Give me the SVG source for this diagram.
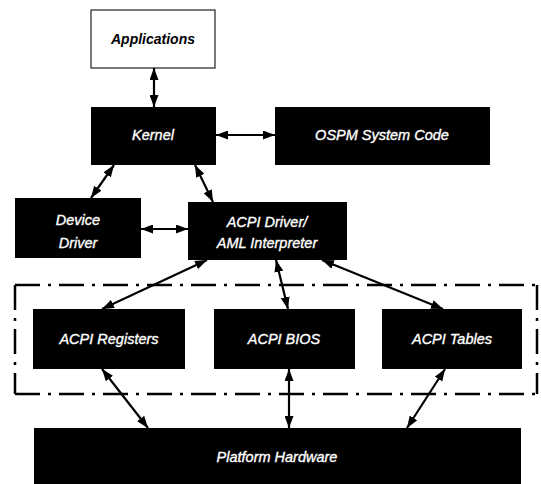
<svg xmlns="http://www.w3.org/2000/svg" width="541" height="484" viewBox="0 0 541 484">
  <style>
    .box { fill: #000; }
    .lbl { font-family: "Liberation Sans", Arial, sans-serif; font-style: italic; font-size: 14.5px; fill: #fff; stroke: #fff; stroke-width: 0.35; text-anchor: middle; }
    .app { fill: #fff; stroke: #222; stroke-width: 1.2; }
    .applbl { font-family: "Liberation Sans", Arial, sans-serif; font-style: italic; font-weight: bold; font-size: 14px; fill: #000; text-anchor: middle; }
    .link { stroke: #000; stroke-width: 2.2; fill: none; marker-start: url(#head); marker-end: url(#head); }
    .frame { stroke: #000; stroke-width: 2.5; fill: none; stroke-dasharray: 25 8 3 8; }
  </style>
  <defs>
    <marker id="head" viewBox="0 0 12 9" refX="12" refY="4.5" markerWidth="12" markerHeight="9" markerUnits="userSpaceOnUse" orient="auto-start-reverse">
      <path d="M0,0 L12,4.5 L0,9 z" fill="#000"/>
    </marker>
  </defs>

  <rect width="541" height="484" fill="#fff"/>

  <!-- ACPI subsystem boundary -->
  <g id="acpi-boundary">
    <path class="frame" d="M15,285 H537 M15,394 H537 M15,285 V394 M537,285 V394"/>
  </g>

  <g id="applications">
    <rect class="app" x="91" y="10" width="124" height="58"/>
    <text class="applbl" x="153" y="44">Applications</text>
  </g>
  <g id="kernel">
    <rect class="box" x="91" y="107" width="125" height="58"/>
    <text class="lbl" x="153" y="140">Kernel</text>
  </g>
  <g id="ospm">
    <rect class="box" x="275" y="107" width="215" height="58"/>
    <text class="lbl" x="382" y="140">OSPM System Code</text>
  </g>
  <g id="device-driver">
    <rect class="box" x="15" y="198" width="126" height="60"/>
    <text class="lbl" x="78" y="225">Device</text>
    <text class="lbl" x="78" y="248">Driver</text>
  </g>
  <g id="acpi-driver">
    <rect class="box" x="188" y="202" width="159" height="58"/>
    <text class="lbl" x="267" y="227">ACPI Driver/</text>
    <text class="lbl" x="267" y="248">AML Interpreter</text>
  </g>
  <g id="acpi-registers">
    <rect class="box" x="33" y="309" width="152" height="60"/>
    <text class="lbl" x="109" y="344">ACPI Registers</text>
  </g>
  <g id="acpi-bios">
    <rect class="box" x="214" y="309" width="141" height="60"/>
    <text class="lbl" x="284" y="344">ACPI BIOS</text>
  </g>
  <g id="acpi-tables">
    <rect class="box" x="382" y="309" width="140" height="60"/>
    <text class="lbl" x="452" y="344">ACPI Tables</text>
  </g>
  <g id="platform-hardware">
    <rect class="box" x="34" y="428" width="487" height="56"/>
    <text class="lbl" x="277" y="462">Platform Hardware</text>
  </g>

  <g id="connectors">
    <line class="link" x1="154" y1="68" x2="154" y2="107"/>
    <line class="link" x1="216" y1="135" x2="275" y2="135"/>
    <line class="link" x1="114" y1="165" x2="91" y2="198"/>
    <line class="link" x1="195" y1="165" x2="213" y2="202"/>
    <line class="link" x1="141" y1="229" x2="188" y2="229"/>
    <line class="link" x1="207" y1="260" x2="102" y2="309"/>
    <line class="link" x1="276" y1="260" x2="288" y2="309"/>
    <line class="link" x1="322" y1="260" x2="443" y2="309"/>
    <line class="link" x1="102" y1="369" x2="148" y2="428"/>
    <line class="link" x1="289" y1="369" x2="289" y2="428"/>
    <line class="link" x1="445" y1="369" x2="407" y2="428"/>
  </g>
</svg>
